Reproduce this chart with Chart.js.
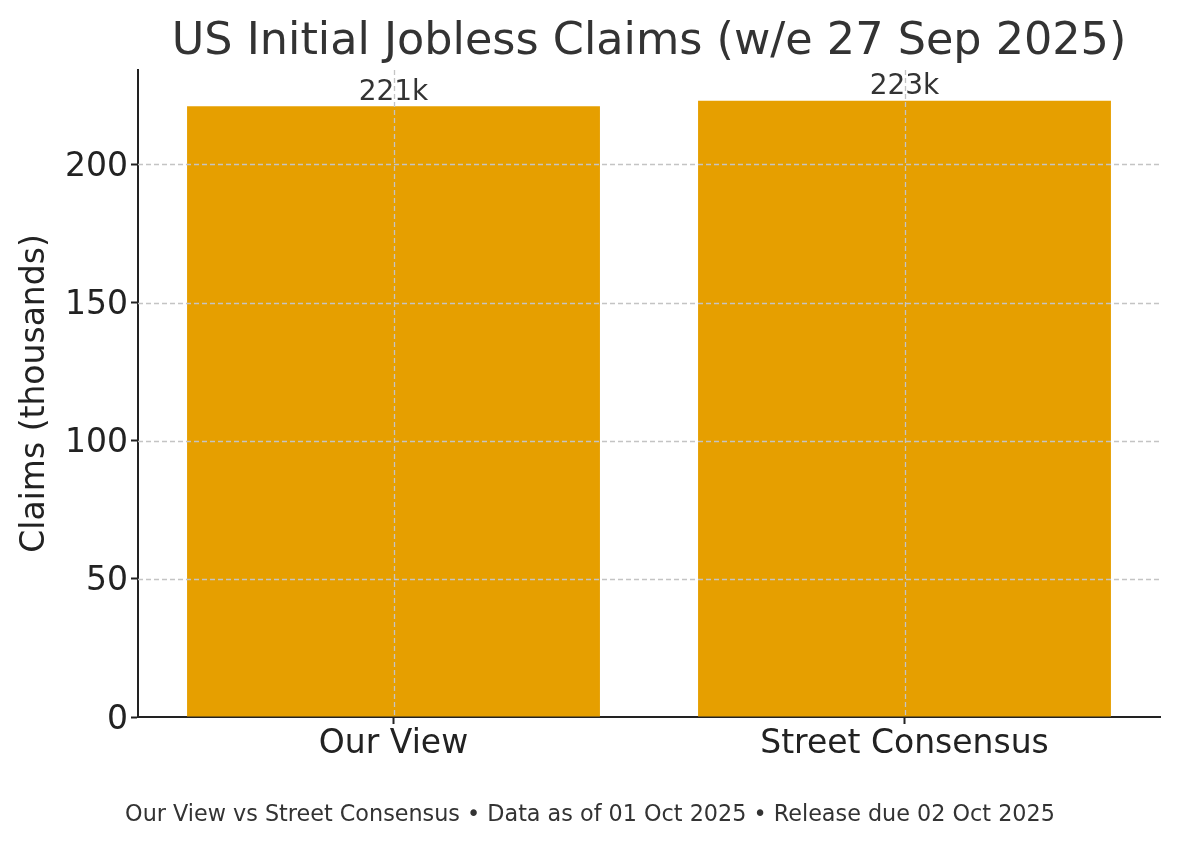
<!DOCTYPE html>
<html>
<head>
<meta charset="utf-8">
<script src="https://cdn.jsdelivr.net/npm/chart.js@4"></script>
<style>
  html, body { margin: 0; padding: 0; background: #fff; }
  #wrap { width: 1180px; height: 846px; }
</style>
</head>
<body>
<div id="wrap"><canvas id="claimsChart"></canvas></div>
<script>
// chart data
const categories = ["Our View", "Street Consensus"];
const claims = [221, 223];
const barLabels = ["221k", "223k"];
const yTicks = [0, 50, 100, 150, 200];

const chartTitle = "US Initial Jobless Claims (w/e 27 Sep 2025)";
const footerText = "Our View vs Street Consensus \u2022 Data as of 01 Oct 2025 \u2022 Release due 02 Oct 2025";

const FONT = "'DejaVu Sans', sans-serif";

/**
 * Dashed grid drawn over the bars, plus value labels, title and footer
 */
const overlayPlugin = {
    id: "overlay",
    afterDatasetsDraw(chart) {
        let ctx = chart.ctx;
        let area = chart.chartArea;
        let x = chart.scales.x;
        let y = chart.scales.y;

        ctx.save();
        ctx.strokeStyle = "#c4c4c4";
        ctx.lineWidth = 1.3;
        ctx.setLineDash([5, 3]);
        y.ticks.forEach((t) => {
            if (t.value === 0) return;
            let py = Math.round(y.getPixelForValue(t.value)) + 0.5;
            ctx.beginPath();
            ctx.moveTo(area.left, py);
            ctx.lineTo(area.right, py);
            ctx.stroke();
        });
        categories.forEach((c, i) => {
            let px = Math.round(x.getPixelForValue(i)) + 0.5;
            ctx.beginPath();
            ctx.moveTo(px, area.top);
            ctx.lineTo(px, area.bottom - 1);
            ctx.stroke();
        });
        ctx.restore();

        // value labels
        let meta = chart.getDatasetMeta(0);
        ctx.save();
        ctx.fillStyle = "#333";
        ctx.font = "28px " + FONT;
        ctx.textAlign = "center";
        ctx.textBaseline = "bottom";
        meta.data.forEach((bar, i) => {
            ctx.fillText(barLabels[i], bar.x, bar.y);
        });
        ctx.restore();
    },
    afterDraw(chart) {
        let ctx = chart.ctx;
        let area = chart.chartArea;
        ctx.save();
        ctx.fillStyle = "#333";
        ctx.textAlign = "center";
        ctx.textBaseline = "middle";
        ctx.font = "44.5px " + FONT;
        ctx.fillText(chartTitle, (area.left + area.right) / 2, 42);
        ctx.font = "22.3px " + FONT;
        ctx.fillText(footerText, chart.width / 2, 815);
        ctx.restore();
    }
};

/**
 * Render claims bar chart
 */
function renderChart() {
    let ctx = document.getElementById("claimsChart").getContext("2d");
    new Chart(ctx, {
        type: "bar",
        data: {
            labels: categories,
            datasets: [{
                label: "Claims (thousands)",
                data: claims,
                backgroundColor: "#E69F00",
                borderWidth: 0,
                barPercentage: 0.808,
                categoryPercentage: 1.0
            }]
        },
        options: {
            responsive: true,
            maintainAspectRatio: false,
            animation: false,
            layout: { padding: { top: 70, right: 20, left: 0, bottom: 0 } },
            plugins: {
                legend: { display: false },
                title: { display: false },
                tooltip: { enabled: false }
            },
            scales: {
                x: {
                    offset: true,
                    grid: {
                        offset: false,
                        drawOnChartArea: false,
                        tickLength: 7,
                        tickColor: "#222",
                        tickWidth: 2
                    },
                    border: { color: "#222", width: 2 },
                    ticks: {
                        color: "#222",
                        padding: 1,
                        font: { family: FONT, size: 33 }
                    },
                    afterFit(scale) { scale.height = 129; }
                },
                y: {
                    min: 0,
                    max: 234.15,
                    afterBuildTicks(scale) {
                        scale.ticks = yTicks.map(v => ({ value: v }));
                    },
                    grid: {
                        drawOnChartArea: false,
                        tickLength: 7,
                        tickColor: "#222",
                        tickWidth: 2
                    },
                    border: { color: "#222", width: 2 },
                    ticks: {
                        color: "#222",
                        padding: 3,
                        labelOffset: 3,
                        font: { family: FONT, size: 33 }
                    },
                    title: {
                        display: true,
                        text: "Claims (thousands)",
                        color: "#222",
                        padding: { top: 16, bottom: 0 },
                        font: { family: FONT, size: 33 }
                    },
                    afterFit(scale) { scale.width = 138; }
                }
            }
        },
        plugins: [overlayPlugin]
    });
}

document.addEventListener("DOMContentLoaded", function () {
    renderChart();
});
</script>
</body>
</html>
